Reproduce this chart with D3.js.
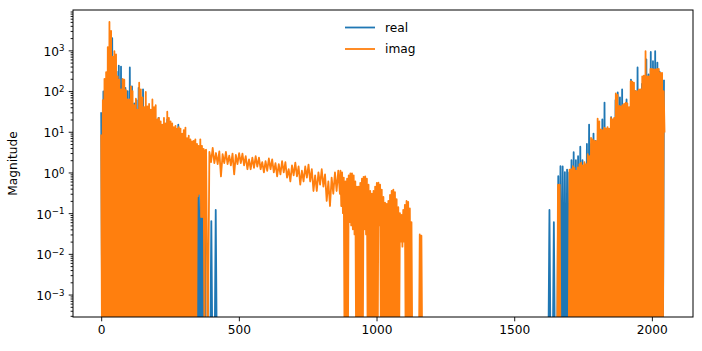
<!DOCTYPE html>
<html>
<head>
<meta charset="utf-8">
<script src="https://cdn.jsdelivr.net/npm/d3@7"></script>
<style>
  body { margin: 0; background: #fff; }
  text { font-family: "DejaVu Sans", sans-serif; }
</style>
</head>
<body>
<div id="my_dataviz"></div>
<script>
// FFT of a 2048-sample signal
// (a value <= 0 means the sample is negative and falls off the log axis)
const realLeft = [
  30,-1,98,-1,150,-1,300,-1,1000,-1,2000,-1,500,-1,300,-1,420,-1,400,-1,
  150,-1,120,-1,100,-1,380,-1,130,-1,50,-1,60,-1,120,-1,60,-1,110,-1,
  30,-1,35,-1,20,-1,25,-1,12,-1,15,-1,22,-1,12,-1,10,-1,14,-1,
  20,-1,12,-1,10,-1,9,-1,10,-1,15,-1,6,-1,7,-1,4,-1,5,-1,
  3,-1,2.5,-1,2,-1,1.06,-1,1.0,-1,0.5,-1,0.8,-1,0.4,-1,-1,-1,-1,-1,
  0.064,-1,-1,-1,0.12,-1
];
const realRight = [
  -1,-1,0.12,-1,-1,-1,0.06,-1,-1,-1,
  0.81,-1,1.43,-1,1.4,-1,1.02,-1,1.18,-1,
  1.0,-1,2.0,-1,3.15,-1,2.0,-1,2.5,-1,
  4.3,-1,2.0,-1,1.5,-1,5,-1,15,-1,
  5,-1,9,-1,6,-1,15,-1,8,-1,
  20,-1,52,-1,12,-1,10,-1,23,-1,
  20,-1,60,-1,92,-1,70,-1,110,-1,
  40,-1,62,-1,30,-1,190,-1,120,-1,
  100,-1,380,-1,80,-1,150,-1,120,-1,
  600,-1,255,-1,910,-1,540,-1,950,-1,
  500,-1,300,-1,250,-1,190
];
const imagLeft = [
  8.6,-1,60,-1,200,-1,290,-1,1200,-1,5000,-1,3000,-1,700,-1,950,-1,800,-1,
  230,-1,190,-1,110,-1,200,-1,190,-1,105,-1,62,-1,62,-1,130,-1,100,-1,
  45,-1,65,-1,35,-1,160,-1,110,-1,70,-1,40,-1,95,-1,42,-1,48,-1,
  35,-1,62,-1,40,-1,45,-1,20,-1,22,-1,18,-1,15,-1,22,-1,16,-1,
  31,-1,22,-1,18,-1,16,-1,13,-1,14,-1,12,-1,13,-1,12,-1,9,-1,
  11,-1,12.7,-1,7,-1,8,-1,6.5,-1,5.8,-1,6,-1,6.5,-1,5,0.26,4.5,0.3,
  6.5,0.08,4.5,0.08,3.8,-1,3.5
];
const imagMid = [
  3.6,-1,3.2,1.8,4.0,1.7,3.0,1.6,3.3,0.8,
  2.8,1.7,3.2,1.6,2.6,1.5,2.9,0.9,2.7,1.6,
  3.0,1.7,2.9,1.5,2.5,1.2,2.1,1.2,2.3,1.3,
  2.5,1.4,2.3,1.2,1.8,1.0,1.9,1.1,2.2,1.2,
  2.1,1.0,1.7,0.8,1.6,0.9,1.9,1.0,1.8,0.75,
  1.2,0.6,1.5,0.85,1.75,0.8,1.4,0.5,1.1,0.6,
  1.4,0.75,1.55,0.6,1.2,0.35,0.85,0.35,1.0,0.5,
  1.2,0.45,0.9,0.2,0.6,0.15,0.75,0.3,1.0,0.35,
  1.1,0.3
];
const imagTail = [
  1.1,0.15,1.0,0.1,0.75,-1,0.6,-1,0.7,-1,
  0.85,0.06,0.95,0.05,0.95,0.04,0.85,0.03,0.6,-1,
  0.45,-1,0.45,-1,0.55,-1,0.7,-1,0.78,0.04,
  0.8,0.03,0.7,-1,0.5,-1,0.35,-1,0.3,-1,
  0.35,-1,0.45,-1,0.55,-1,0.56,0.05,0.5,-1,
  0.38,-1,0.25,-1,0.18,-1,0.17,-1,0.2,-1,
  0.28,-1,0.35,-1,0.38,-1,0.33,-1,0.22,-1,
  0.14,-1,0.1,0.02,0.09,0.015,0.12,0.02,0.16,-1,
  0.2,-1,0.19,-1,0.13,-1,0.06,-1,-1,-1,
  -1,-1,-1,-1,-1,-1,0.03,-1,0.028,-1,
  -1
];
const imagRight = [
  -1,
  0.5,-1,0.5,-1,-1,-1,-1,-1,-1,-1,
  -1,-1,-1,-1,1.18,-1,1.2,-1,1.43,-1,
  1.3,-1,1.1,-1,1.33,-1,1.6,-1,1.73,-1,
  1.5,-1,1.8,-1,1.6,-1,2.8,-1,2.5,-1,
  7.1,-1,6.5,-1,6.0,-1,5.9,-1,21,-1,
  18,-1,11.4,-1,11,-1,12.7,-1,12,-1,
  13,-1,12,-1,22,-1,20,-1,22,-1,
  87,-1,80,-1,43,-1,42,-1,45,-1,
  48,-1,52,-1,50,-1,40,-1,175,-1,
  170,-1,160,-1,100,-1,100,-1,110,-1,
  110,-1,230,-1,240,-1,950,-1,230,-1,
  230,-1,350,-1,350,-1,340,-1,340,-1,
  350,-1,350,-1,280,-1,280,-1,100,9.6
];

// sample index where each run starts, and the index spacing inside it
const realSegments = [
  {start: 0, step: 4, values: realLeft},
  {start: 1620, step: 4, values: realRight}
];
const imagSegments = [
  {start: 0, step: 3, values: imagLeft},
  {start: 381, step: 6, values: imagMid},
  {start: 869, step: 3, values: imagTail},
  {start: 1656, step: 3, values: imagRight}
];
const seriesNames = ["real", "imag"];
const xTicks = [0, 500, 1000, 1500, 2000];
const nSamples = 2048;

var margin = {top: 10, right: 9, bottom: 34, left: 73},
    width = 702 - margin.left - margin.right,
    height = 351 - margin.top - margin.bottom;

var colors = ["#1f77b4", "#ff7f0e"];
var fontSize = 12.2;

var svgRoot = d3.select("#my_dataviz")
  .append("svg")
    .attr("width", width + margin.left + margin.right)
    .attr("height", height + margin.top + margin.bottom);

var svg = svgRoot.append("g")
    .attr("transform", "translate(" + margin.left + "," + margin.top + ")");

// matplotlib style 5% margins on x
var pad = (nSamples - 1) * 0.05;
var x = d3.scaleLinear()
  .domain([-pad, nSamples - 1 + pad])
  .range([0, width]);

var y = d3.scaleLog()
  .domain([2.81e-4, 9800])
  .range([height, 0]);

svg.append("clipPath")
    .attr("id", "plot-clip")
  .append("rect")
    .attr("width", width)
    .attr("height", height);

function toPoints(segments) {
  return segments.flatMap(s => s.values.map((v, k) => ({i: s.start + k * s.step, v: v})));
}

var line = d3.line()
  .x(d => x(d.i))
  .y(d => d.v > 0 ? y(d.v) : height + 40);

var plot = svg.append("g").attr("clip-path", "url(#plot-clip)");

[realSegments, imagSegments].forEach(function(segs, n) {
  plot.append("path")
    .datum(toPoints(segs))
    .attr("fill", "none")
    .attr("stroke", colors[n])
    .attr("stroke-width", 1.8)
    .attr("stroke-linejoin", "round")
    .attr("d", line);
});

// x axis
var xAxis = svg.append("g")
  .attr("transform", "translate(0," + height + ")")
  .call(d3.axisBottom(x).tickValues(xTicks).tickFormat(d3.format("d"))
    .tickSize(4.3).tickPadding(4.3).tickSizeOuter(0));
xAxis.select(".domain").remove();
xAxis.selectAll("text").style("font-size", fontSize + "px").attr("fill", "#000");

// y axis: majors with 10^n labels, minors without
var allTicks = y.ticks();
var isMajor = d => Math.abs(Math.log10(d) - Math.round(Math.log10(d))) < 1e-9;
var majors = allTicks.filter(isMajor);
var minors = allTicks.filter(d => !isMajor(d));

var yMinor = svg.append("g")
  .call(d3.axisLeft(y).tickValues(minors).tickSize(2.4).tickFormat(() => "").tickSizeOuter(0));
yMinor.select(".domain").remove();

var yMajor = svg.append("g")
  .call(d3.axisLeft(y).tickValues(majors).tickSize(4.3).tickPadding(4.3).tickSizeOuter(0));
yMajor.select(".domain").remove();
yMajor.selectAll("text")
  .style("font-size", fontSize + "px")
  .attr("fill", "#000")
  .attr("dy", "0.4em")
  .each(function(d) {
    var e = Math.round(Math.log10(d));
    var t = d3.select(this);
    t.text(null);
    t.append("tspan").text("10");
    t.append("tspan")
      .attr("dy", "-0.5em")
      .style("font-size", "8.6px")
      .text(e < 0 ? "\u2212" + Math.abs(e) : String(e));
  });

svg.selectAll(".tick line").attr("stroke", "#000").attr("stroke-width", 0.9);

// frame
svg.append("rect")
  .attr("width", width)
  .attr("height", height)
  .attr("fill", "none")
  .attr("stroke", "#000")
  .attr("stroke-width", 1);

svg.append("text")
  .attr("transform", "rotate(-90)")
  .attr("x", -height / 2)
  .attr("y", -56)
  .attr("text-anchor", "middle")
  .style("font-size", fontSize + "px")
  .text("Magnitude");

// legend, upper center, no frame
var legend = svgRoot.append("g").attr("transform", "translate(345,27.5)");
seriesNames.forEach(function(name, n) {
  var row = legend.append("g").attr("transform", "translate(0," + n * 21.5 + ")");
  row.append("line")
    .attr("x1", 0).attr("x2", 30)
    .attr("stroke", colors[n])
    .attr("stroke-width", 1.8);
  row.append("text")
    .attr("x", 40)
    .attr("dy", "0.35em")
    .style("font-size", fontSize + "px")
    .text(name);
});
</script>
</body>
</html>
